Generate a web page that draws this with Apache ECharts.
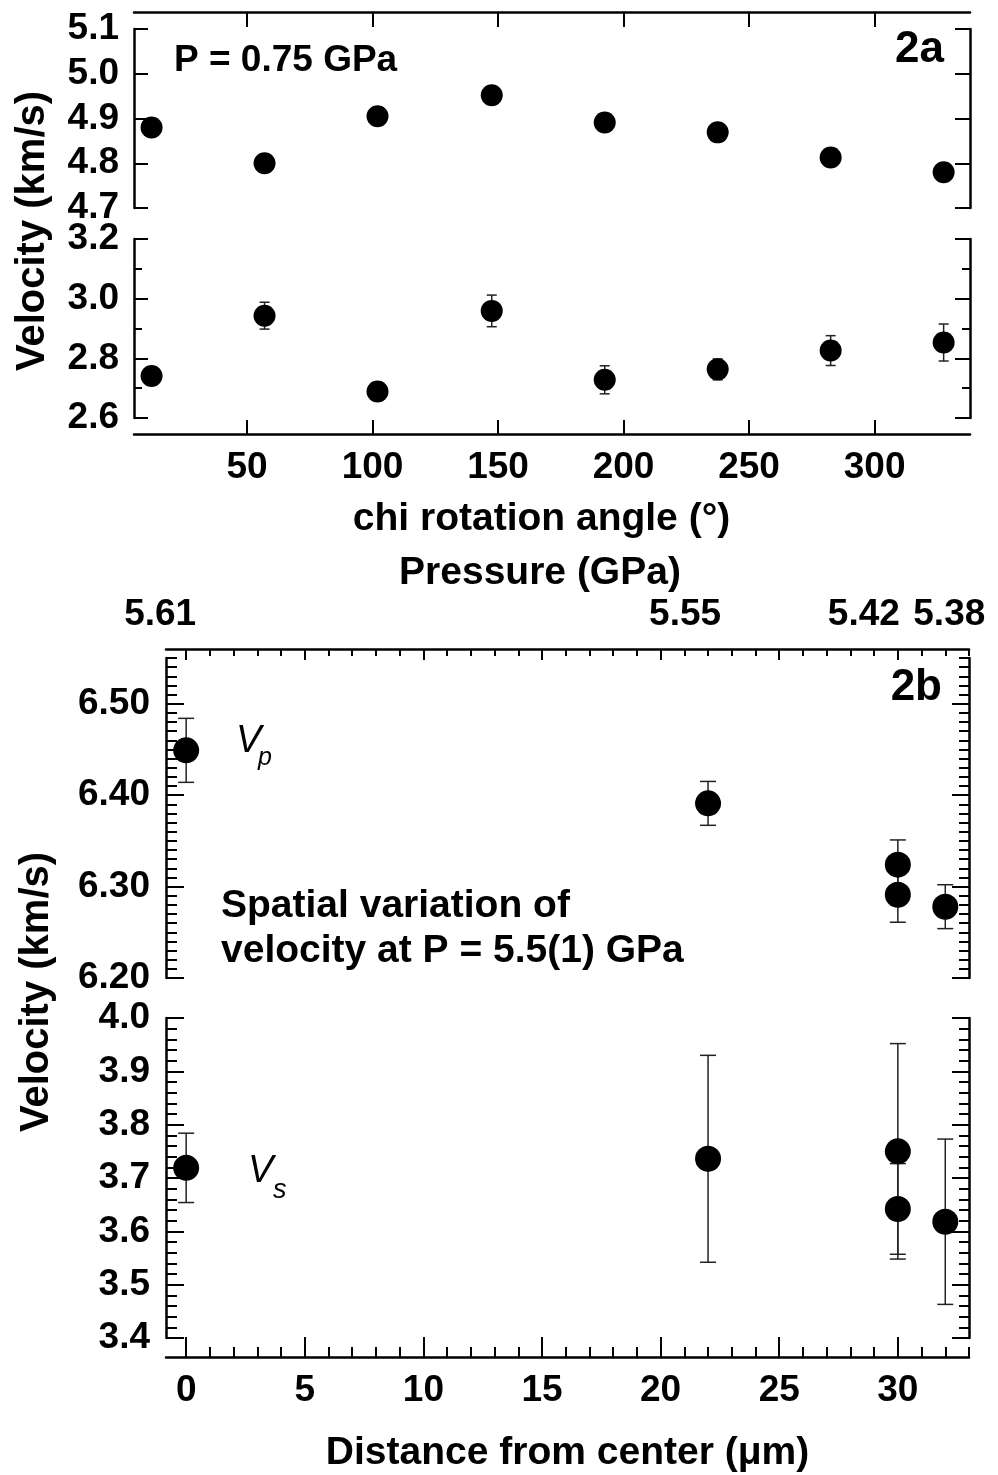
<!DOCTYPE html>
<html><head><meta charset="utf-8">
<script src="https://cdn.jsdelivr.net/npm/echarts@6/dist/echarts.min.js"></script>
<style>html,body{margin:0;padding:0;background:#fff}#c{width:998px;height:1475px}</style>
</head><body><div id="c"></div>
<script>
// ---------------- data ----------------
// Fig 2a: P = 0.75 GPa, velocity vs chi rotation angle
const chiAngle = [12, 57, 102, 147.5, 192.5, 237.5, 282.5, 327.5];
const vpChi    = [4.880, 4.800, 4.905, 4.952, 4.891, 4.869, 4.813, 4.780];
const vsChi    = [2.741, 2.943, 2.689, 2.959, 2.728, 2.763, 2.826, 2.853];
const vsChiErr = [0.030, 0.045, 0.030, 0.053, 0.047, 0.035, 0.050, 0.062];

// Fig 2b: spatial variation at P = 5.5(1) GPa
const distance  = [0, 22, 30, 30, 32];
const vpDist    = [6.449, 6.391, 6.324, 6.291, 6.278];
const vpDistErr = [0.035, 0.024, 0.027, 0.030, 0.024];
const vsDist    = [3.719, 3.736, 3.750, 3.642, 3.618];
const vsDistErr = [0.065, 0.194, 0.202, 0.085, 0.155];

// top (pressure) axis of 2b
const pressurePos    = [0, 22, 30, 32];
const pressureLabels = ['5.61', '5.55', '5.42', '5.38'];

// tick values
const chiTicks     = [50, 100, 150, 200, 250, 300];
const vpChiTicks   = [4.7, 4.8, 4.9, 5.0, 5.1];
const vsChiTicks   = [2.6, 2.8, 3.0, 3.2];
const vsChiMinor   = [2.7, 2.9, 3.1];
const distTicks    = [0, 5, 10, 15, 20, 25, 30];
const vpDistTicks  = [6.2, 6.3, 6.4, 6.5];
const vsDistTicks  = [3.4, 3.5, 3.6, 3.7, 3.8, 3.9, 4.0];

// axis ranges
const chiRange    = [5, 338];
const distRange   = [-0.85, 33];
const vpChiRange  = [4.7, 5.1];
const vsChiRange  = [2.6, 3.2];
const vpDistRange = [6.2, 6.55];
const vsDistRange = [3.4, 4.0];

function steps(a, b, s, dec) {
  const out = [];
  const n = Math.round((b - a) / s);
  for (let i = 0; i <= n; i++) out.push(+(a + i * s).toFixed(dec));
  return out;
}
const distMinor   = steps(0, 33, 1, 0);
const vpDistMinor = steps(6.2, 6.55, 0.01, 2);
const vsDistMinor = steps(3.4, 4.0, 0.02, 2);

// ---------------- helpers ----------------
const FONT = "'Liberation Sans', Arial, Helvetica, sans-serif";

function axisBase(gridIndex, position, range, offset, showLine) {
  return {
    type: 'value', gridIndex, position, min: range[0], max: range[1], offset: offset || 0,
    axisLine: { show: showLine !== false, onZero: false, lineStyle: { color: '#000', width: 2.5 } },
    splitLine: { show: false }, minorTick: { show: false }, minorSplitLine: { show: false },
    axisTick: { show: false }, axisLabel: { show: false }, nameMoveOverlap: false
  };
}
function ticks(ax, values, len) {
  ax.axisTick = { show: true, inside: true, length: len, customValues: values,
    lineStyle: { color: '#000', width: 2 } };
  return ax;
}
function labels(ax, values, fmt, margin, size) {
  ax.axisLabel = { show: true, customValues: values, formatter: fmt, margin: margin,
    color: '#000', fontSize: size || 37, fontWeight: 'bold', fontFamily: FONT,
    showMinLabel: true, showMaxLabel: true, hideOverlap: false };
  return ax;
}
function named(ax, name, gap, padding) {
  ax.name = name; ax.nameLocation = 'middle'; ax.nameGap = gap;
  ax.nameTextStyle = { color: '#000', fontSize: 39, fontWeight: 'bold', fontFamily: FONT, padding: padding || 0 };
  return ax;
}
const f1 = v => (+v).toFixed(1);
const f2 = v => (+v).toFixed(2);

// ---------------- axes ----------------
const grids = [
  { left: 134, top: 29,   width: 836, height: 179 },
  { left: 134, top: 239,  width: 836, height: 179 },
  { left: 166, top: 658,  width: 803, height: 320 },
  { left: 166, top: 1018, width: 803, height: 320 }
].map(g => Object.assign({ containLabel: false, outerBoundsMode: 'none', show: false }, g));

const xAxes = [
  ticks(axisBase(0, 'top', chiRange, 17), chiTicks, 15),
  named(labels(ticks(axisBase(1, 'bottom', chiRange, 16), chiTicks, 14), chiTicks, v => String(v), 15),
        'chi rotation angle (°)', 66, [0, 21, 0, 0]),
  null,
  ticks(axisBase(2, 'top', distRange, 9, false), distMinor, 7),
  named(labels(ticks(axisBase(3, 'bottom', distRange, 19), distTicks, 20), distTicks, v => String(v), 15),
        'Distance from center (μm)', 77),
  ticks(axisBase(3, 'bottom', distRange, 19, false), distMinor, 10)
];
const pAx = ticks(axisBase(2, 'top', distRange, 9), distTicks, 11);
pAx.axisLabel = {
  show: true, customValues: pressurePos, margin: 16, hideOverlap: false,
  color: '#000', fontSize: 37, fontWeight: 'bold', fontFamily: FONT,
  formatter: v => { const i = pressurePos.indexOf(+v); return '{p' + i + '|' + pressureLabels[i] + '}'; },
  rich: {
    p0: { fontSize: 37, fontWeight: 'bold', fontFamily: FONT, color: '#000', padding: [0, 52, 0, 0] },
    p1: { fontSize: 37, fontWeight: 'bold', fontFamily: FONT, color: '#000', padding: [0, 46, 0, 0] },
    p2: { fontSize: 37, fontWeight: 'bold', fontFamily: FONT, color: '#000', padding: [0, 68, 0, 0] },
    p3: { fontSize: 37, fontWeight: 'bold', fontFamily: FONT, color: '#000', padding: [0, 0, 0, 8] }
  }
};
named(pAx, 'Pressure (GPa)', 56, [0, 55, 0, 0]);
xAxes[2] = pAx;

const yAxes = [
  labels(ticks(axisBase(0, 'left', vpChiRange), vpChiTicks, 14), vpChiTicks, f1, 15),
  ticks(axisBase(0, 'right', vpChiRange), vpChiTicks, 15),
  labels(ticks(axisBase(1, 'left', vsChiRange), vsChiTicks, 14), vsChiTicks, f1, 15),
  ticks(axisBase(1, 'left', vsChiRange, 0, false), vsChiMinor, 8),
  ticks(axisBase(1, 'right', vsChiRange), vsChiTicks, 15),
  ticks(axisBase(1, 'right', vsChiRange, 0, false), vsChiMinor, 8),
  labels(ticks(axisBase(2, 'left', vpDistRange), vpDistTicks, 18), vpDistTicks, f2, 16),
  ticks(axisBase(2, 'left', vpDistRange, 0, false), vpDistMinor, 11),
  ticks(axisBase(2, 'right', vpDistRange), vpDistTicks, 17),
  ticks(axisBase(2, 'right', vpDistRange, 0, false), vpDistMinor, 10),
  labels(ticks(axisBase(3, 'left', vsDistRange), vsDistTicks, 18), vsDistTicks, f1, 16),
  ticks(axisBase(3, 'left', vsDistRange, 0, false), vsDistMinor, 11),
  ticks(axisBase(3, 'right', vsDistRange), vsDistTicks, 17),
  ticks(axisBase(3, 'right', vsDistRange, 0, false), vsDistMinor, 10)
];

// ---------------- series ----------------
function zip(xs, ys) { return xs.map((x, i) => [x, ys[i]]); }
function scatter(xi, yi, xs, ys, size) {
  return { type: 'scatter', xAxisIndex: xi, yAxisIndex: yi, symbol: 'circle', symbolSize: size,
    itemStyle: { color: '#000', opacity: 1 }, z: 3, silent: true, data: zip(xs, ys) };
}
function errorBars(xi, yi, xs, ys, es, cap) {
  return {
    type: 'custom', xAxisIndex: xi, yAxisIndex: yi, z: 2, silent: true,
    encode: { x: 0, y: [1, 2] },
    data: xs.map((x, i) => [x, ys[i] - es[i], ys[i] + es[i]]),
    renderItem(params, api) {
      const x = api.value(0);
      const lo = api.coord([x, api.value(1)]);
      const hi = api.coord([x, api.value(2)]);
      const st = { stroke: '#222', lineWidth: 1.5 };
      return { type: 'group', children: [
        { type: 'line', shape: { x1: lo[0], y1: lo[1], x2: hi[0], y2: hi[1] }, style: st },
        { type: 'line', shape: { x1: lo[0] - cap, y1: lo[1], x2: lo[0] + cap, y2: lo[1] }, style: st },
        { type: 'line', shape: { x1: hi[0] - cap, y1: hi[1], x2: hi[0] + cap, y2: hi[1] }, style: st }
      ]};
    }
  };
}

const series = [
  scatter(0, 0, chiAngle, vpChi, 22),
  errorBars(1, 2, chiAngle, vsChi, vsChiErr, 5),
  scatter(1, 2, chiAngle, vsChi, 22),
  errorBars(2, 6, distance, vpDist, vpDistErr, 8),
  scatter(2, 6, distance, vpDist, 26),
  errorBars(4, 10, distance, vsDist, vsDistErr, 8),
  scatter(4, 10, distance, vsDist, 26)
];

// ---------------- annotations ----------------
function txt(x, y, text, font, align, extra) {
  return Object.assign({ type: 'text', x: x, y: y, silent: true,
    style: { text: text, font: font, fill: '#000', align: align || 'left', verticalAlign: 'middle',
             textAlign: align || 'left', textVerticalAlign: 'middle' } }, extra || {});
}
const graphic = [
  txt(33, 231, 'Velocity (km/s)', 'bold 40px ' + FONT, 'center', { rotation: Math.PI / 2 }),
  txt(37, 992, 'Velocity (km/s)', 'bold 40px ' + FONT, 'center', { rotation: Math.PI / 2 }),
  txt(174, 61, 'P = 0.75 GPa', 'bold 37px ' + FONT, 'left'),
  txt(944, 50, '2a', 'bold 44px ' + FONT, 'right'),
  txt(942, 688, '2b', 'bold 44px ' + FONT, 'right'),
  txt(236, 741, 'V', 'italic 38px ' + FONT, 'left'),
  txt(258, 758, 'p', 'italic 25px ' + FONT, 'left'),
  txt(248, 1171, 'V', 'italic 38px ' + FONT, 'left'),
  txt(273, 1190, 's', 'italic 27px ' + FONT, 'left'),
  { type: 'text', x: 221, y: 929, silent: true,
    style: { text: 'Spatial variation of\nvelocity at P = 5.5(1) GPa', font: 'bold 39px ' + FONT,
             fill: '#000', lineHeight: 45, align: 'left', verticalAlign: 'middle',
             textAlign: 'left', textVerticalAlign: 'middle' } }
];

const chart = echarts.init(document.getElementById('c'), null, { renderer: 'canvas' });
chart.setOption({
  animation: false,
  backgroundColor: '#fff',
  textStyle: { fontFamily: FONT, color: '#000' },
  grid: grids,
  xAxis: xAxes,
  yAxis: yAxes,
  series: series,
  graphic: graphic
});
</script>
</body></html>
